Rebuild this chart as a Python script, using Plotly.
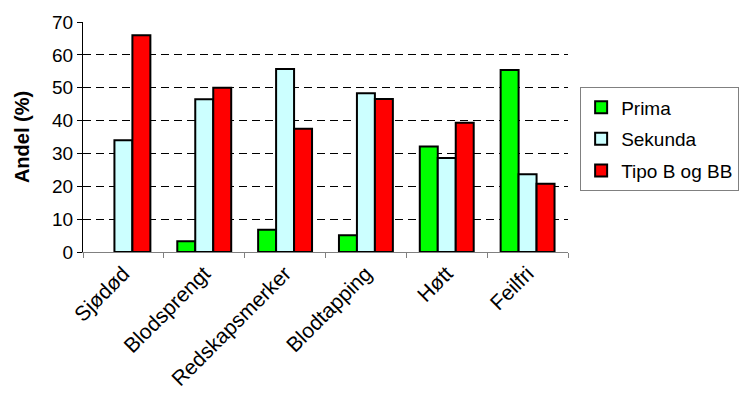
import plotly.graph_objects as go

categories = ["Sjødød", "Blodsprengt", "Redskapsmerker", "Blodtapping", "Høtt", "Feilfri"]
prima = [None, 3.3, 6.8, 5.1, 32.1, 55.4]
sekunda = [34.0, 46.5, 55.7, 48.3, 28.6, 23.7]
tipo = [66.0, 50.0, 37.5, 46.6, 39.3, 20.8]
series_names = ["Prima", "Sekunda", "Tipo B og BB"]
series_colors = ["#00ff00", "#ccffff", "#ff0000"]
y_ticks = [0, 10, 20, 30, 40, 50, 60, 70]

fig = go.Figure()
for i, (name, vals, col) in enumerate(zip(series_names, [prima, sekunda, tipo], series_colors)):
    fig.add_trace(go.Bar(
        x=categories, y=vals, name=name, legendgroup=f"g{i}",
        marker=dict(color=col, line=dict(color="black", width=2)),
    ))

font_family = "Liberation Sans, Arial, sans-serif"
fig.update_layout(
    width=751, height=403,
    margin=dict(l=83, r=175, t=20, b=151),
    paper_bgcolor="white", plot_bgcolor="white",
    barmode="group", bargap=0.333, bargroupgap=0,
    font=dict(family=font_family, size=18, color="black"),
    showlegend=True,
    legend=dict(
        x=1.025, y=0.716, xanchor="left", yanchor="top",
        bordercolor="#808080", borderwidth=1,
        font=dict(size=19, family=font_family),
        tracegroupgap=4, itemwidth=30,
    ),
)
fig.update_xaxes(
    showline=True, linecolor="#808080", linewidth=1,
    ticks="outside", tickson="boundaries", ticklen=5, tickcolor="#808080",
    tickangle=-45, tickfont=dict(size=21),
    showgrid=False,
)
fig.update_yaxes(
    range=[0, 70], tickvals=y_ticks, ticks="outside", ticklen=5, tickcolor="black",
    showline=True, linecolor="black", linewidth=1,
    showgrid=True, gridcolor="black", gridwidth=1, griddash="8px,5px",
    zeroline=False,
    title=dict(text="<b>Andel (%)</b>", font=dict(size=20), standoff=17),
    tickfont=dict(size=19),
)
fig.write_html("out.html")
